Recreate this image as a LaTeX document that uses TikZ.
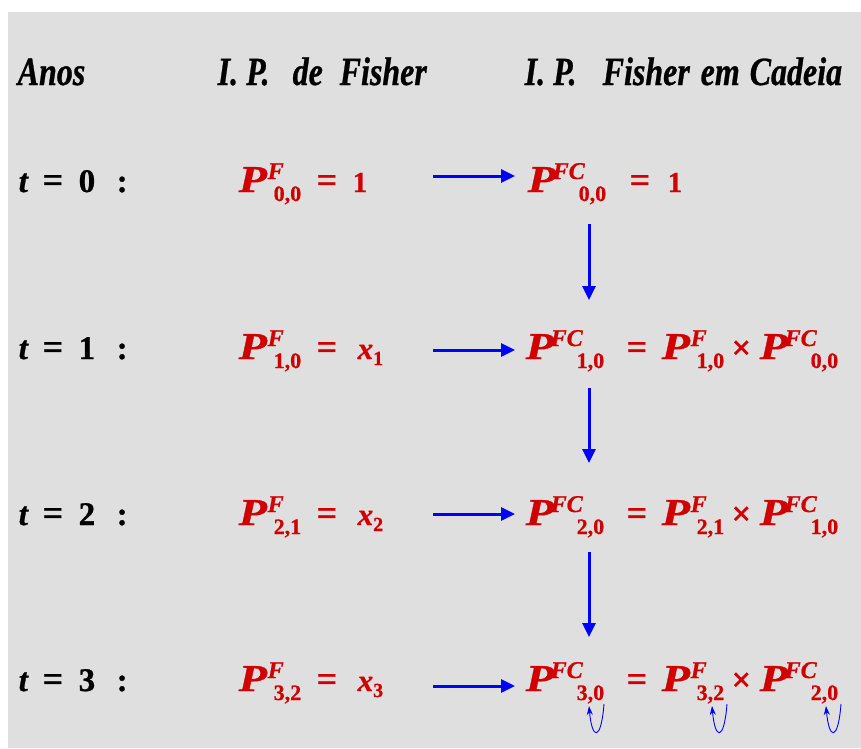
\documentclass[tikz,border=0pt]{standalone}
\usepackage{fontspec}
\setmainfont{Liberation Serif}[BoldFeatures={FakeBold=0.8},BoldItalicFeatures={FakeBold=0.8}]
\usetikzlibrary{arrows.meta}

\definecolor{panelgray}{RGB}{223,223,223}
\definecolor{fred}{RGB}{208,0,0}
\definecolor{arrowblue}{RGB}{0,0,255}

% place #2 at horizontal offset #1 (pt) from the current point, taking no width
\newcommand\at[2]{\makebox[0pt][l]{\hspace*{#1pt}#2}}
\newcommand\hs[1]{\scalebox{0.80}[1]{#1}}

% index symbols
\newcommand\Pbig{{\fontsize{38}{40}\selectfont\bfseries\itshape\scalebox{1.22}[1]{P}}}
\newcommand\Psup[1]{\raisebox{13pt}{\fontsize{24}{26}\selectfont\bfseries\itshape #1}}
\newcommand\Psub[1]{\raisebox{-9pt}{\fontsize{22}{24}\selectfont\bfseries #1}}
\newcommand\PF[1]{\at{0}{\Pbig}\at{29}{\Psup{F}}\at{35}{\Psub{#1}}}
\newcommand\PFC[1]{\at{0}{\Pbig}\at{25}{\Psup{FC}}\at{51}{\Psub{#1}}}
\newcommand\eqs{{\fontsize{36}{38}\selectfont\bfseries =}}
\newcommand\tms{{\fontsize{34}{36}\selectfont\bfseries ×}}
\newcommand\xv[1]{{\fontsize{31}{33}\selectfont\bfseries\itshape x}\raisebox{-6pt}{\fontsize{20}{22}\selectfont\bfseries #1}}
\newcommand\one{{\fontsize{29}{31}\selectfont\bfseries 1}}
\newcommand\rowlab[1]{\at{18}{\textit{t}}\at{42}{\fontsize{36}{38}\selectfont =}\at{78}{#1}\at{116}{:}}

\tikzset{
  txt/.style={inner sep=0pt, anchor=base west},
  lab/.style={txt, font=\fontsize{33}{35}\selectfont\bfseries, text=black},
  expr/.style={txt, text=fred},
  head/.style={txt, font=\fontsize{40}{42}\selectfont\bfseries\itshape, text=black},
  flow/.style={draw=arrowblue, line width=3pt, -{Triangle[length=14pt,width=13pt]}},
  loopy/.style={draw=arrowblue, line width=0.9pt, -{Stealth[length=9pt,width=6pt]}},
}

\begin{document}
\begin{tikzpicture}[x=1pt,y=-1pt]
\useasboundingbox (0,0) rectangle (861,748);
\fill[panelgray] (8,12) rectangle (861,748);

% column headings
\node[head] (hd) at (0,85) {\at{17}{\hs{Anos}}\at{217}{\hs{I. P.}}\at{292}{\hs{de}}\at{339}{\hs{Fisher}}%
  \at{524}{\hs{I. P.}}\at{602}{\hs{Fisher}}\at{700}{\hs{em}}\at{749}{\hs{Cadeia}}};

% year labels
\node[lab] (t0) at (0,192) {\rowlab{0}};
\node[lab] (t1) at (0,359) {\rowlab{1}};
\node[lab] (t2) at (0,525) {\rowlab{2}};
\node[lab] (t3) at (0,691) {\rowlab{3}};

% Fisher index
\node[expr] (f0) at (0,192) {\at{238}{\PF{0,0}}\at{316}{\eqs}\at{352}{\one}};
\node[expr] (f1) at (0,359) {\at{238}{\PF{1,0}}\at{316}{\eqs}\at{357}{\xv{1}}};
\node[expr] (f2) at (0,525) {\at{238}{\PF{2,1}}\at{316}{\eqs}\at{357}{\xv{2}}};
\node[expr] (f3) at (0,691) {\at{238}{\PF{3,2}}\at{316}{\eqs}\at{357}{\xv{3}}};

% chained Fisher index
\node[expr] (c0) at (0,192) {\at{527}{\PFC{0,0}}\at{629}{\eqs}\at{667}{\one}};
\node[expr] (c1) at (0,359) {\at{525}{\PFC{1,0}}\at{626}{\eqs}\at{661}{\PF{1,0}}\at{731}{\tms}\at{759}{\PFC{0,0}}};
\node[expr] (c2) at (0,525) {\at{525}{\PFC{2,0}}\at{626}{\eqs}\at{661}{\PF{2,1}}\at{731}{\tms}\at{759}{\PFC{1,0}}};
\node[expr] (c3) at (0,691) {\at{525}{\PFC{3,0}}\at{626}{\eqs}\at{661}{\PF{3,2}}\at{731}{\tms}\at{759}{\PFC{2,0}}};

% arrow end points
\coordinate (h0a) at (433,176); \coordinate (h0b) at (515,176);
\coordinate (h1a) at (433,350); \coordinate (h1b) at (515,350);
\coordinate (h2a) at (433,514); \coordinate (h2b) at (515,514);
\coordinate (h3a) at (433,686); \coordinate (h3b) at (515,686);
\coordinate (v1a) at (589,224); \coordinate (v1b) at (589,300);
\coordinate (v2a) at (589,388); \coordinate (v2b) at (589,463);
\coordinate (v3a) at (589,552); \coordinate (v3b) at (589,637);

\draw[flow] (h0a) -- (h0b);
\draw[flow] (h1a) -- (h1b);
\draw[flow] (h2a) -- (h2b);
\draw[flow] (h3a) -- (h3b);
\draw[flow] (v1a) -- (v1b);
\draw[flow] (v2a) -- (v2b);
\draw[flow] (v3a) -- (v3b);

% small loops under the subscripts of the last row
\coordinate (la1) at (604,704); \coordinate (lb1) at (589,706);
\coordinate (la2) at (727,704); \coordinate (lb2) at (712,706);
\coordinate (la3) at (841,704); \coordinate (lb3) at (826,706);
\draw[loopy] (la1) .. controls (601,742) and (592,740) .. (lb1);
\draw[loopy] (la2) .. controls (724,742) and (715,740) .. (lb2);
\draw[loopy] (la3) .. controls (838,742) and (829,740) .. (lb3);
\end{tikzpicture}
\end{document}
